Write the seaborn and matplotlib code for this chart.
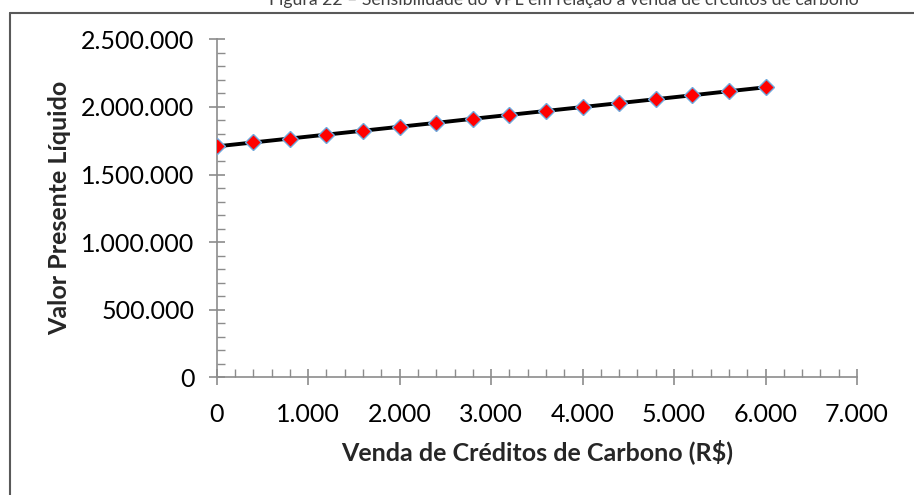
import matplotlib
matplotlib.use("Agg")
import matplotlib.pyplot as plt
import seaborn as sns
import pandas as pd
from matplotlib.ticker import FuncFormatter, MultipleLocator
from matplotlib.lines import Line2D

# ---- data ----
creditos = [0, 400, 800, 1200, 1600, 2000, 2400, 2800, 3200, 3600,
            4000, 4400, 4800, 5200, 5600, 6000]
vpl = [1708000, 1737000, 1766000, 1795000, 1824000, 1853000, 1882000, 1912000,
       1941000, 1970000, 1999000, 2028000, 2057000, 2086000, 2116000, 2145000]
titulo = "Figura 22 – Sensibilidade do VPL em relação à venda de créditos de carbono"
xlabel = "Venda de Créditos de Carbono (R$)"
ylabel = "Valor Presente Líquido"

df = pd.DataFrame({"x": creditos, "y": vpl})

sns.set_style("ticks")
plt.rcParams["font.family"] = ["Lato", "DejaVu Sans"]

fig = plt.figure(figsize=(9.14, 4.95), dpi=100)
ax = fig.add_axes([216.7 / 914, (495 - 377.3) / 495,
                   (857 - 216.7) / 914, (377.3 - 39.3) / 495])

sns.lineplot(data=df, x="x", y="y", ax=ax, color="black", linewidth=2.8,
             marker="D", markersize=8.6, markerfacecolor="#FF0000",
             markeredgecolor="#6FA8DC", markeredgewidth=1.0, zorder=3)

ax.set_xlim(0, 7000)
ax.set_ylim(0, 2500000)

fmt = FuncFormatter(lambda v, p: f"{int(round(v)):,}".replace(",", "."))
ax.xaxis.set_major_locator(MultipleLocator(1000))
ax.xaxis.set_minor_locator(MultipleLocator(200))
ax.yaxis.set_major_locator(MultipleLocator(500000))
ax.yaxis.set_minor_locator(MultipleLocator(100000))
ax.xaxis.set_major_formatter(fmt)
ax.yaxis.set_major_formatter(fmt)

gray = "#8C8C8C"
for s in ["top", "right"]:
    ax.spines[s].set_visible(False)
for s in ["left", "bottom"]:
    ax.spines[s].set_color(gray)
    ax.spines[s].set_linewidth(1.2)

ax.tick_params(which="both", bottom=True, left=True, top=False, right=False)
ax.tick_params(which="major", direction="inout", length=12, width=1.2,
               color=gray, labelsize=18, labelcolor="black")
ax.tick_params(axis="x", which="major", pad=12.5)
ax.tick_params(axis="y", which="major", pad=10)
ax.tick_params(which="minor", direction="in", length=6, width=1.0, color=gray)

ax.set_xlabel(xlabel, fontsize=18, fontweight="bold", labelpad=9.5)
ax.set_ylabel(ylabel, fontsize=18, fontweight="bold", labelpad=7)

fig.text(564 / 914, (495 - 5) / 495, titulo, ha="center", va="baseline",
         fontsize=12.7, color="#404040")

# outer border (partially visible)
fig.add_artist(Line2D([10 / 914, 10 / 914], [0, (495 - 13) / 495],
                      transform=fig.transFigure, color="#595959", linewidth=1.5))
fig.add_artist(Line2D([10 / 914, 1], [(495 - 13) / 495, (495 - 13) / 495],
                      transform=fig.transFigure, color="#595959", linewidth=1.5))

fig.savefig("out.png", dpi=100)
